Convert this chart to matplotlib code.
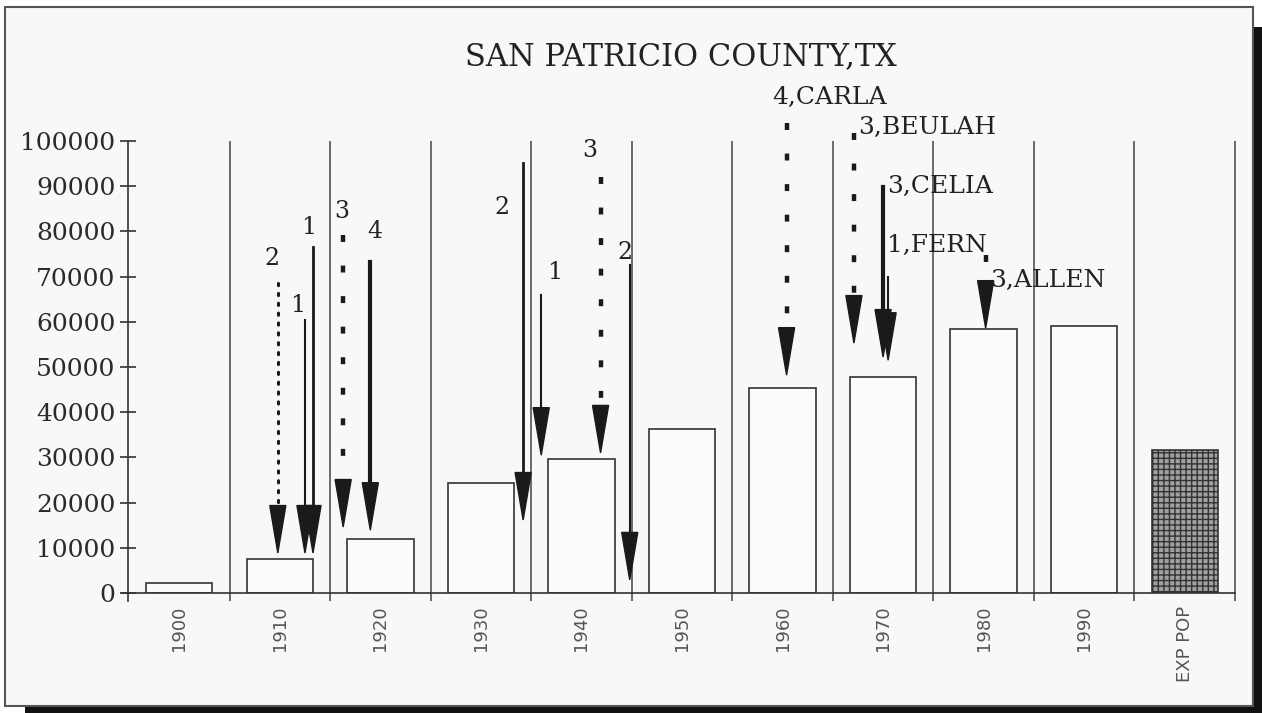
import matplotlib
matplotlib.use("Agg")
import matplotlib.pyplot as plt
from matplotlib.patches import Rectangle

# --- data -------------------------------------------------------------
categories = ["1900", "1910", "1920", "1930", "1940", "1950",
              "1960", "1970", "1980", "1990", "EXP POP"]
population = [2300, 7500, 11900, 24300, 29600, 36300,
              45400, 47800, 58400, 59100, 31600]

# hurricane arrows: x position (category units), start value, tip value
storm_x   = [0.98, 1.25, 1.33, 1.63, 1.90, 3.42, 3.60, 4.19, 4.48,
             6.04, 6.71, 7.00, 7.05, 8.02]
storm_top = [68600, 60400, 76500, 79200, 73200, 95100, 65900, 92000, 72600,
             104000, 101800, 89800, 69900, 74800]
storm_tip = [8850, 8850, 8850, 14600, 13900, 16150, 30500, 31000, 2900,
             48200, 55300, 52200, 51500, 58600]
storm_style = ["dot", "thin", "solid", "dash", "thick", "solid", "thin", "dash",
               "thin", "dash", "dash", "thick", "thin", "dash"]

# storm labels (category + name)
label_text = ["2", "1", "1", "3", "4", "2", "1", "3", "2",
              "4,CARLA", "3,BEULAH", "3,CELIA", "1,FERN", "3,ALLEN"]
label_x = [0.92, 1.18, 1.29, 1.62, 1.94, 3.21, 3.73, 4.08, 4.43,
           5.90, 6.75, 7.04, 7.04, 8.06]
label_y = [74100, 63700, 80800, 84300, 79900, 85200, 71000, 98000, 75400,
           109700, 102900, 90000, 76800, 69200]

yticks = list(range(0, 100001, 10000))

# --- figure -----------------------------------------------------------
plt.rcParams["lines.scale_dashes"] = False
plt.rcParams["hatch.color"] = "#4a4a4a"
W, H = 1262, 713
fig = plt.figure(figsize=(W / 100, H / 100), dpi=100)
fig.patch.set_facecolor("white")

# scanned page frame
fig.patches.append(Rectangle((5 / W, 1 - 706 / H), 1248 / W, 699 / H,
                             transform=fig.transFigure, facecolor="#f8f8f6",
                             edgecolor="#555555", lw=1.5, zorder=-2))
fig.patches.append(Rectangle((1254 / W, 0), 8 / W, 1 - 27 / H,
                             transform=fig.transFigure, facecolor="#111111",
                             edgecolor="none", zorder=-2))
fig.patches.append(Rectangle((25 / W, 0), 1 - 25 / W, 6 / H,
                             transform=fig.transFigure, facecolor="#111111",
                             edgecolor="none", zorder=-2))

ax = fig.add_axes([128 / W, 120 / H, (1235 - 128) / W, (593 - 141) / H])
ax.set_zorder(2)
ax.set_facecolor("none")
ax.set_xlim(-0.51, 10.5)
ax.set_ylim(0, 100000)

x = list(range(len(categories)))
fills = ["#fbfbf9"] * (len(categories) - 1) + ["#a0a0a0"]
hatches = [""] * (len(categories) - 1) + ["+++"]
for xi, v, fc, h in zip(x, population, fills, hatches):
    ax.bar(xi, v, width=0.66, color=fc, edgecolor="#333333", linewidth=1.2,
           hatch=h, zorder=2)

# category separators
ax.vlines([i + 0.5 for i in x], -1800, 100000, color="#444444", lw=1.1,
          clip_on=False, zorder=1)
# axis lines run a little past the origin
ax.plot([-0.51, -0.51], [-1800, 0], color="#333333", lw=1.2, clip_on=False)
ax.plot([-0.57, -0.51], [0, 0], color="#333333", lw=1.2, clip_on=False)

for s in ["top", "right"]:
    ax.spines[s].set_visible(False)
ax.spines["left"].set_color("#333333")
ax.spines["bottom"].set_color("#333333")
ax.spines["left"].set_linewidth(1.2)
ax.spines["bottom"].set_linewidth(1.2)

ax.set_yticks(yticks)
ax.set_yticklabels([str(t) for t in yticks], family="DejaVu Serif",
                   fontsize=18, color="#2a2a2a")
ax.tick_params(axis="y", direction="inout", length=12, width=1.2,
               color="#333333", pad=3)
ax.set_xticks(x)
ax.set_xticklabels(categories, rotation=90, fontsize=13, color="#555555",
                   family="DejaVu Sans")
ax.tick_params(axis="x", length=0, pad=9)

# hurricane arrows
line_kw = {
    "dot":   dict(lw=2.2, dashes=(1.6, 5.5), dash_capstyle="round"),
    "dash":  dict(lw=3.2, dashes=(5, 17)),
    "thin":  dict(lw=1.5, linestyle="-"),
    "solid": dict(lw=2.0, linestyle="-"),
    "thick": dict(lw=3.0, linestyle="-"),
}
head_len, head_w = 10500, 0.16
for sx, top, tip, st in zip(storm_x, storm_top, storm_tip, storm_style):
    ax.plot([sx, sx], [top, tip + head_len * 0.9], color="#1a1a1a",
            clip_on=False, zorder=4, **line_kw[st])
    ax.fill([sx - head_w / 2, sx + head_w / 2, sx],
            [tip + head_len, tip + head_len, tip],
            color="#1a1a1a", clip_on=False, zorder=5)

for t, lx, ly in zip(label_text, label_x, label_y):
    ha = "center" if len(t) == 1 else "left"
    ax.text(lx, ly, t, ha=ha, va="center", family="DejaVu Serif",
            fontsize=17 if len(t) == 1 else 18, color="#222222",
            clip_on=False, zorder=6)

fig.text(681 / W, 1 - 57 / H, "SAN PATRICIO COUNTY,TX", ha="center",
         va="center", family="DejaVu Serif", fontsize=22, color="#222222")

fig.savefig("out.png", dpi=100)
